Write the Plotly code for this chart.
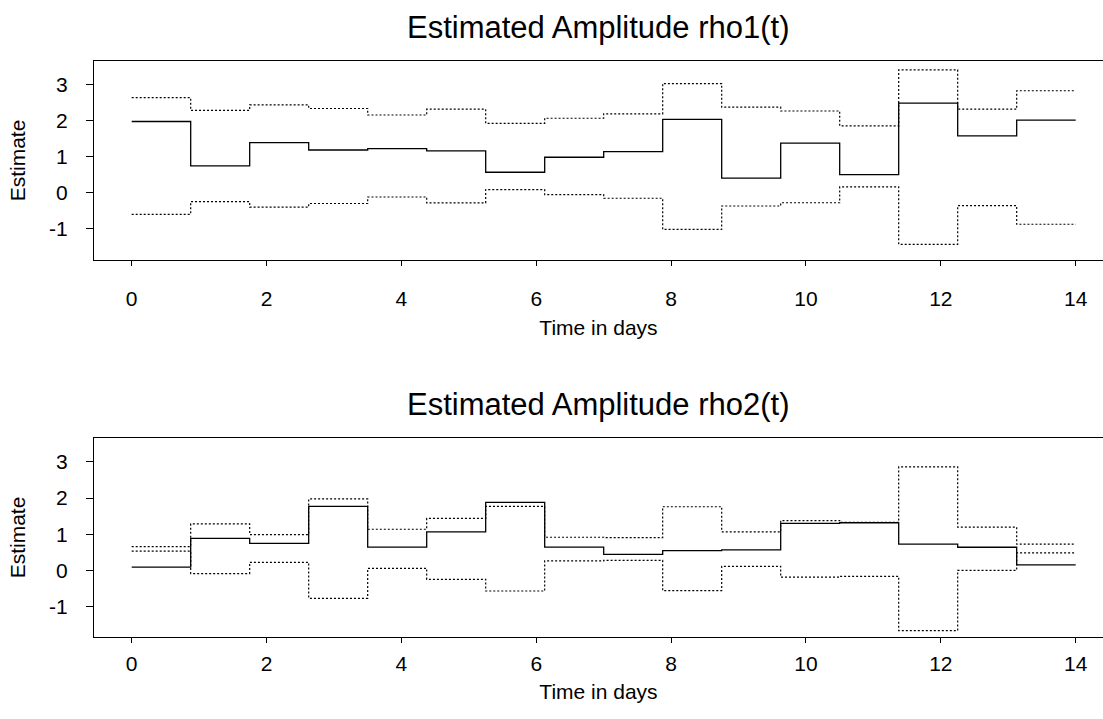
import plotly.graph_objects as go

# ---- data ----
seg_edges = [0.0, 0.875, 1.75, 2.625, 3.5, 4.375, 5.25, 6.125, 7.0, 7.875,
             8.75, 9.625, 10.5, 11.375, 12.25, 13.125, 14.0]

rho1_est = [1.97, 0.74, 1.385, 1.18, 1.22, 1.155, 0.565, 0.98, 1.135, 2.03,
            0.40, 1.37, 0.50, 2.48, 1.57, 2.005]
rho1_upper = [2.63, 2.28, 2.43, 2.33, 2.15, 2.31, 1.92, 2.06, 2.18, 3.02,
              2.365, 2.26, 1.85, 3.40, 2.31, 2.82]
rho1_lower = [-0.60, -0.25, -0.40, -0.30, -0.12, -0.285, 0.083, -0.055, -0.155,
              -1.015, -0.37, -0.28, 0.16, -1.43, -0.36, -0.875]

rho2_est = [0.10, 0.89, 0.75, 1.77, 0.65, 1.07, 1.88, 0.65, 0.45, 0.55,
            0.57, 1.30, 1.32, 0.73, 0.645, 0.157]
rho2_upper = [0.66, 1.29, 0.99, 1.975, 1.14, 1.44, 1.77, 0.92, 0.91, 1.76,
              1.07, 1.38, 1.33, 2.86, 1.20, 0.73]
rho2_lower = [0.54, -0.08, 0.23, -0.76, 0.065, -0.24, -0.56, 0.27, 0.285,
              -0.55, 0.12, -0.18, -0.155, -1.65, 0.01, 0.49]

titles = ["Estimated Amplitude rho1(t)", "Estimated Amplitude rho2(t)"]
x_ticks = [0, 2, 4, 6, 8, 10, 12, 14]
y_ticks = [-1, 0, 1, 2, 3]
y_ticktext = ["-1", "0", "1", "2", "3"]

FONT = "Liberation Sans, Arial, Helvetica, sans-serif"

fig = go.Figure()


def step(vals):
    return list(vals) + [vals[-1]]


panels = [
    ("x", "y", rho1_est, rho1_upper, rho1_lower),
    ("x2", "y2", rho2_est, rho2_upper, rho2_lower),
]
for xa, ya, est, up, lo in panels:
    for vals, dash, w in [(up, "2px,2px", 1.2), (lo, "2px,2px", 1.2), (est, "solid", 1.3)]:
        fig.add_trace(go.Scatter(
            x=seg_edges, y=step(vals), mode="lines", line_shape="hv",
            line=dict(color="black", width=w, dash=dash),
            xaxis=xa, yaxis=ya, showlegend=False, hoverinfo="skip"))


def xaxis_cfg(label_standoff, title_standoff):
    return dict(range=[-0.559, 14.405], tickvals=x_ticks, ticks="outside", ticklen=5,
                tickcolor="black", showline=True, linecolor="black", linewidth=1.2,
                mirror=True, showgrid=False, zeroline=False,
                tickfont=dict(family=FONT, size=21, color="black"),
                ticklabelstandoff=label_standoff,
                title=dict(text="Time in days", font=dict(family=FONT, size=21, color="black"),
                           standoff=title_standoff))


ycommon = dict(tickvals=y_ticks, ticktext=y_ticktext, ticks="outside", ticklen=7,
               tickcolor="black", showline=True, linecolor="black", linewidth=1.2,
               mirror=False, showgrid=False, zeroline=False,
               tickfont=dict(family=FONT, size=21, color="black"),
               ticklabelstandoff=14,
               title=dict(text="Estimate", font=dict(family=FONT, size=21, color="black"),
                          standoff=17))

fig.update_layout(
    width=1103, height=719,
    margin=dict(l=94, r=0, t=0, b=0),
    paper_bgcolor="white", plot_bgcolor="white",
    xaxis=dict(domain=[0, 1], anchor="y", **xaxis_cfg(15, 11)),
    yaxis=dict(domain=[0.6384, 0.9152], anchor="x", range=[-1.864, 3.645], **ycommon),
    xaxis2=dict(domain=[0, 1], anchor="y2", **xaxis_cfg(2, 10)),
    yaxis2=dict(domain=[0.1136, 0.3912], anchor="x2", range=[-1.835, 3.66], **ycommon),
    annotations=[
        dict(text=titles[0], x=0.5, y=0.9624, xref="paper", yref="paper",
             xanchor="center", yanchor="middle", showarrow=False,
             font=dict(family=FONT, size=31, color="black")),
        dict(text=titles[1], x=0.5, y=0.4370, xref="paper", yref="paper",
             xanchor="center", yanchor="middle", showarrow=False,
             font=dict(family=FONT, size=31, color="black")),
    ],
)

fig.write_html("out.html")
